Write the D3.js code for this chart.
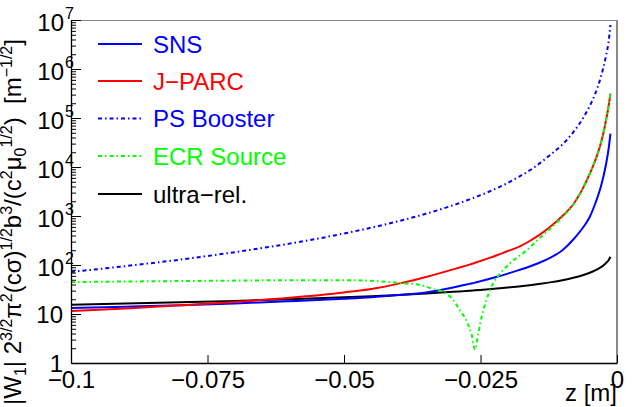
<!DOCTYPE html>
<html><head><meta charset="utf-8">
<script src="https://cdn.jsdelivr.net/npm/d3@7"></script>
<style>body{margin:0;background:#fff}svg{display:block}</style>
</head><body>
<svg id="c" width="632" height="407"></svg>
<script>
// ---- data ----
const zGrid = [-0.1,-0.09,-0.08,-0.07,-0.06,-0.05,-0.045,-0.04,-0.035,-0.03,-0.028,-0.027,-0.026,-0.025,-0.024,-0.022,-0.02,-0.018,-0.016,-0.014,-0.012,-0.01,-0.008,-0.006,-0.005,-0.004,-0.003,-0.0025,-0.002,-0.0015,-0.0012];
const sns = [13.2,14.1,15.1,16.4,18.2,20.4,21.9,24.3,27.5,34.7,38.9,41.2,43.7,46.8,50.1,57.5,66.8,78.5,93.3,114,145,200,331,631,955,1780,3800,6310,11500,25100,47900];
const jparc = [11.5,13.0,15.0,17.6,21.4,27.5,32.4,41.7,56.9,81.3,94.4,102,111,121,132,158,193,234,309,427,631,1000,1740,4170,7240,13500,29500,49000,91200,186000,316000];
const psBooster = [72,95,129,183,273,439,578,785,1110,1660,1990,2190,2410,2660,2950,3700,4750,6300,8500,12300,18500,28800,51500,109000,175000,312000,661000,1060000,1890000,3900000,7900000];
const ultraRel = [15.5,16.3,17.3,18.5,20.0,21.9,23.1,24.5,26.2,28.3,29.3,29.8,30.4,31.0,31.6,33.0,34.6,36.5,38.7,41.4,44.7,49.0,54.8,63.2,69.3,77.5,89.4,97.9,110,127,147];
const zEcr = [-0.1,-0.09,-0.08,-0.07,-0.06,-0.05,-0.045,-0.04,-0.036,-0.0337,-0.0319,-0.03,-0.0288,-0.0275,-0.0266,-0.026,-0.0254,-0.0248,-0.0239,-0.0227,-0.0214,-0.0196,-0.0165,-0.014,-0.012,-0.01,-0.008,-0.006,-0.005,-0.004,-0.003,-0.0025,-0.002,-0.0015,-0.0012];
const ecr = [44.7,46,47,48,49,49,47.5,43,39,32.5,28.5,19.4,12,7,3.7,1.9,4.0,8.8,19.4,42,67,108,202,370,580,950,1720,4170,7240,13500,29500,49000,91200,186000,316000];

const seriesNames = ["SNS","J\u2212PARC","PS Booster","ECR Source","ultra\u2212rel."];
const xTicks = [-0.1,-0.075,-0.05,-0.025,0];
const xTickLabels = ["\u22120.1","\u22120.075","\u22120.05","\u22120.025","0"];
const yDecades = [0,1,2,3,4,5,6,7];

// ---- layout ----
const L = 71, R = 617, T = 20, B = 363;
const FONT = "'Liberation Sans', Arial, Helvetica, sans-serif";
const svg = d3.select("#c");
const x = d3.scaleLinear().domain([-0.1, 0]).range([L, R]);
const y = d3.scaleLog().domain([1, 1e7]).range([B, T]);

const series = [
  {name: seriesNames[0], z: zGrid, v: sns, color: "#0000ff", dash: null},
  {name: seriesNames[1], z: zGrid, v: jparc, color: "#ff0000", dash: null},
  {name: seriesNames[2], z: zGrid, v: psBooster, color: "#0000ff", dash: "4,3,1.5,3"},
  {name: seriesNames[3], z: zEcr, v: ecr, color: "#00ff00", dash: "4,3,1.5,3"},
  {name: seriesNames[4], z: zGrid, v: ultraRel, color: "#000000", dash: null}
];

svg.append("clipPath").attr("id","clip").append("rect")
  .attr("x", L).attr("y", T).attr("width", R-L).attr("height", B-T);

const line = d3.line().x(d => x(d[0])).y(d => y(d[1])).curve(d3.curveMonotoneX);
const drawOrder = [4,0,1,2,3];
drawOrder.forEach(i => {
  const s = series[i];
  svg.append("path").attr("clip-path","url(#clip)")
    .attr("d", line(s.z.map((z,k) => [z, s.v[k]])))
    .attr("fill","none").attr("stroke", s.color).attr("stroke-width", 2)
    .attr("stroke-dasharray", s.dash);
});

// frame (top/right gray)
svg.append("line").attr("x1",L).attr("x2",R).attr("y1",T+0.5).attr("y2",T+0.5).attr("stroke","#888").attr("stroke-width",1);
svg.append("line").attr("x1",R).attr("x2",R).attr("y1",T).attr("y2",B).attr("stroke","#888").attr("stroke-width",2);

// x axis
const xAxis = d3.axisBottom(x).tickValues(xTicks).tickSizeInner(-8).tickSizeOuter(0).tickFormat((d,i) => xTickLabels[i]);
const gx = svg.append("g").attr("transform", `translate(0,${B})`).call(xAxis);
gx.select(".domain").attr("stroke","#000").attr("stroke-width",1.3);
gx.selectAll(".tick line").attr("stroke","#000");
gx.selectAll(".tick text").attr("font-family", FONT).attr("font-size", 24).attr("fill","#000").attr("dy", 0).attr("y", 25);

// y axis
const minorVals = [];
yDecades.slice(0,-1).forEach(e => { for (let m = 2; m <= 9; m++) minorVals.push(m * Math.pow(10, e)); });
const yAxisMinor = d3.axisLeft(y).tickValues(minorVals).tickSizeInner(-5).tickSizeOuter(0).tickFormat("");
const gym = svg.append("g").attr("transform", `translate(${L},0)`).call(yAxisMinor);
gym.select(".domain").remove();
gym.selectAll(".tick line").attr("stroke","#000");
const yAxis = d3.axisLeft(y).tickValues(yDecades.map(e => Math.pow(10,e))).tickSizeInner(-10).tickSizeOuter(0).tickFormat("");
const gy = svg.append("g").attr("transform", `translate(${L},0)`).call(yAxis);
gy.select(".domain").attr("stroke","#000").attr("stroke-width",1.3);
gy.selectAll(".tick line").attr("stroke","#000");

yDecades.forEach(e => {
  const ty = y(Math.pow(10, e));
  const t = svg.append("text").attr("font-family", FONT).attr("fill","#000");
  if (e === 0) {
    t.attr("x", 63).attr("y", ty + 9).attr("text-anchor","end").attr("font-size", 24).text("1");
  } else if (e === 1) {
    t.attr("x", 63).attr("y", ty + 9).attr("text-anchor","end").attr("font-size", 24).text("10");
  } else {
    t.attr("x", 64).attr("y", ty + 11).attr("text-anchor","end").attr("font-size", 24).text("10");
    svg.append("text").attr("font-family", FONT).attr("fill","#000").attr("font-size", 16)
      .attr("x", 65).attr("y", ty - 1).text(String(e));
  }
});

// axis titles
svg.append("text").attr("font-family", FONT).attr("font-size", 24).attr("text-anchor","end")
  .attr("x", R).attr("y", 401).text("z [m]");

const titleParts = [["|W","n"],["1","sub"],["| 2","n"],["3/2","sup"],["\u03c0","n"],["2","sup"],["(c\u03c3)","n"],["1/2","sup"],["b","n"],["3","sup"],["/(c","n"],["2","sup"],["\u03bc","n"],["0","sub"],["1/2","sup"],[")  [m","n"],["\u22121/2","sup"],["]","n"]];
const yt = svg.append("text").attr("font-family", FONT).attr("font-size", 24)
  .attr("transform", "translate(21,405) rotate(-90)").attr("x",0).attr("y",0);
let cur = 0;
titleParts.forEach(([s, type]) => {
  const off = type === "sup" ? -9 : type === "sub" ? 5 : 0;
  yt.append("tspan").attr("dy", off - cur).attr("font-size", type === "n" ? 24 : 16)
    .attr("xml:space","preserve").text(s);
  cur = off;
});

// legend
const legRows = [44, 81, 118.5, 156, 194];
series.forEach((s, i) => {
  const cy = legRows[i];
  svg.append("line").attr("x1", 98).attr("x2", 142).attr("y1", cy).attr("y2", cy)
    .attr("stroke", s.color).attr("stroke-width", 2).attr("stroke-dasharray", s.dash);
  svg.append("text").attr("font-family", FONT).attr("font-size", 24).attr("fill", s.color)
    .attr("x", 153).attr("y", cy + 8.5).text(s.name);
});
</script>
</body></html>
